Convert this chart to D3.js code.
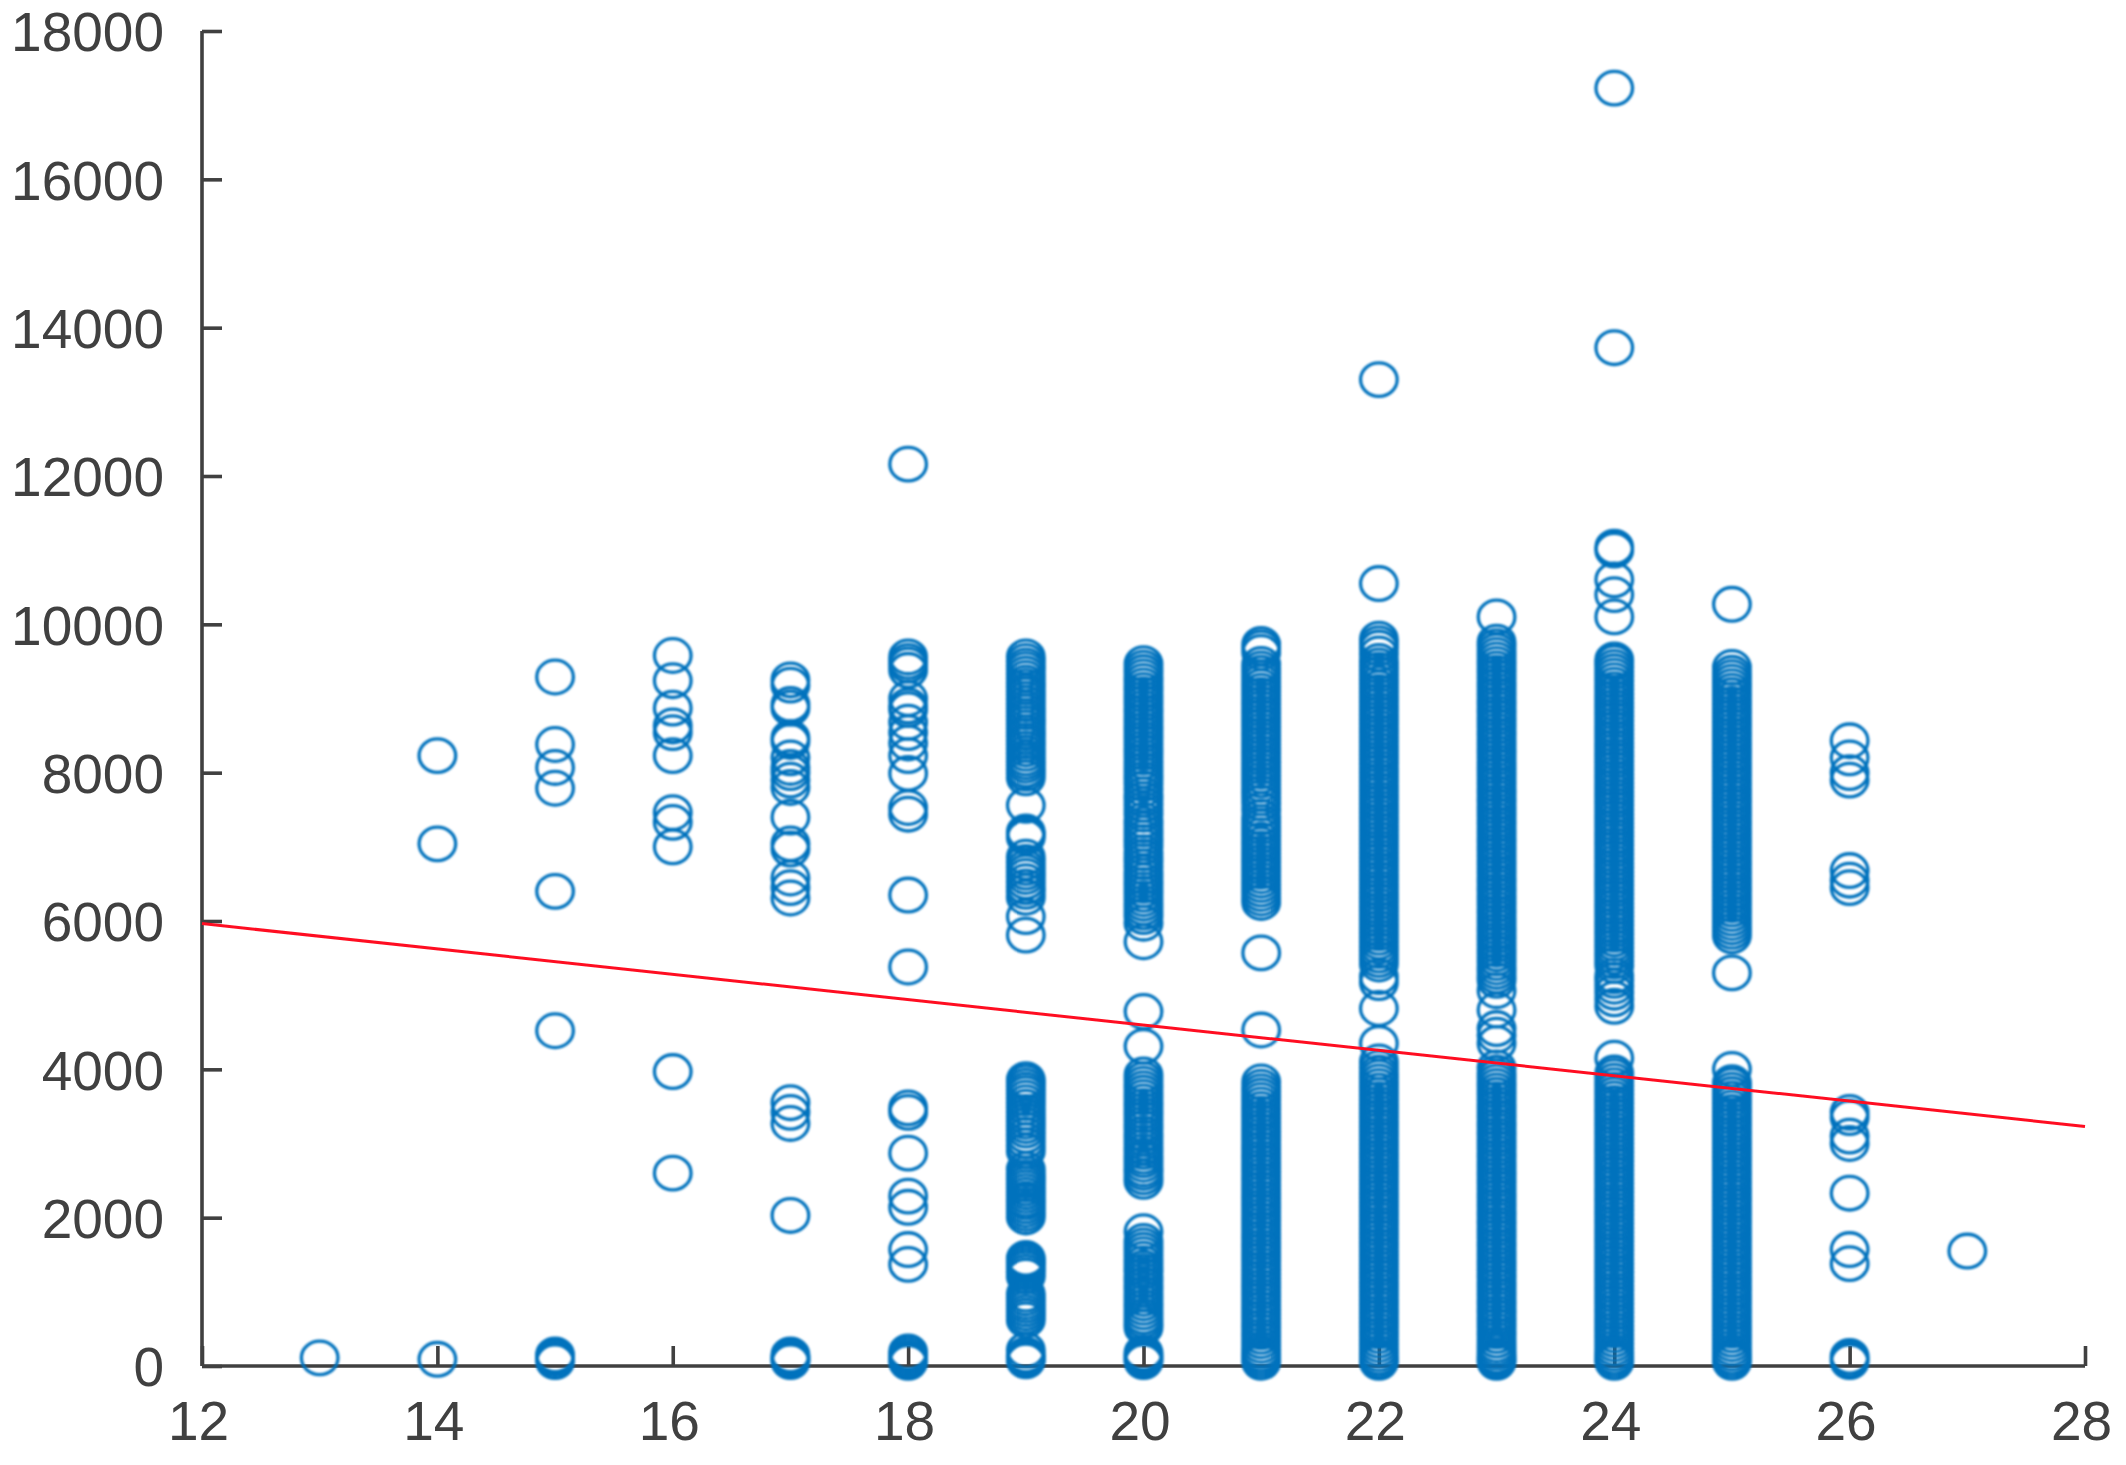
<!DOCTYPE html>
<html><head><meta charset="utf-8">
<script src="https://cdnjs.cloudflare.com/ajax/libs/d3/7.8.5/d3.min.js"></script>
<style>html,body{margin:0;background:#fff}svg{display:block}</style></head>
<body><svg id="c" width="2126" height="1465"></svg>
<script>
const xTicks=[12,14,16,18,20,22,24,26,28];
const yTicks=[0,2000,4000,6000,8000,10000,12000,14000,16000,18000];
const trendX=[12,28];
const trendY=[5965,3230];
const col13=[110];
const col14=[90,7040,8230];
const col15=[60,100,130,150,4520,6400,7790,8070,8380,9290];
const col16=[2600,3970,7000,7330,7460,8230,8540,8630,8870,9240,9580];
const col17=[60,80,100,120,150,2030,3270,3420,3550,6310,6450,6580,6970,7040,7400,7800,7900,8000,8070,8200,8420,8470,8870,8920,9180,9250];
const col18=[50,80,110,150,190,1370,1570,2140,2290,2870,3420,3480,5380,6350,7440,7530,7990,8230,8400,8540,8680,8850,8900,9000,9380,9450,9500,9560,12160];
const col19=[70,100,120,150,215,620,670,720,770,820,870,920,970,1210,1260,1310,1350,1390,1420,1450,2010,2060,2110,2160,2210,2250,2300,2350,2400,2450,2500,2540,2590,2650,2900,2970,3040,3110,3180,3240,3300,3360,3420,3490,3550,3610,3670,3720,3770,3820,3860,5810,6060,6320,6400,6460,6530,6600,6660,6720,6790,6860,7130,7170,7200,7560,7930,7990,8040,8100,8150,8200,8260,8320,8380,8430,8490,8540,8600,8660,8710,8760,8820,8870,8930,8990,9050,9100,9160,9210,9270,9330,9390,9440,9500,9560];
const col20=[60,90,120,150,180,520,570,620,670,730,790,850,910,970,1030,1090,1150,1210,1270,1320,1380,1440,1500,1560,1620,1680,1810,2490,2550,2610,2660,2720,2780,2830,2890,2950,3010,3070,3130,3200,3260,3320,3380,3440,3500,3560,3620,3680,3740,3800,3860,3925,4310,4780,5720,5970,6060,6120,6180,6240,6300,6360,6420,6480,6540,6600,6660,6730,6800,6860,6920,7000,7060,7120,7180,7240,7300,7360,7440,7500,7570,7640,7700,7780,7850,7910,7970,8030,8090,8150,8210,8270,8330,8390,8450,8510,8570,8630,8690,8750,8810,8870,8930,8990,9050,9110,9170,9230,9290,9350,9410,9470];
const col21=[50,90,130,170,220,280,340,400,460,520,580,640,700,760,820,880,940,1000,1060,1120,1180,1240,1300,1360,1420,1480,1540,1600,1660,1720,1780,1840,1900,1960,2020,2080,2140,2200,2260,2320,2380,2440,2500,2560,2620,2680,2740,2800,2860,2920,2980,3040,3100,3160,3220,3280,3340,3400,3460,3520,3580,3640,3700,3760,3830,4530,5570,6250,6310,6370,6430,6490,6550,6610,6670,6730,6790,6850,6910,6970,7030,7090,7150,7210,7270,7330,7400,7500,7590,7660,7720,7780,7840,7900,7960,8020,8080,8140,8200,8260,8320,8380,8440,8500,8560,8620,8680,8740,8800,8860,8920,8980,9040,9100,9160,9220,9280,9340,9400,9460,9620,9680,9730];
const col22=[50,80,120,170,230,290,350,410,470,530,590,650,710,770,830,890,950,1010,1070,1130,1190,1250,1310,1370,1430,1490,1550,1610,1670,1730,1790,1850,1910,1970,2030,2090,2150,2210,2270,2330,2390,2450,2510,2570,2630,2690,2750,2810,2870,2930,2990,3050,3110,3170,3230,3290,3350,3410,3470,3530,3590,3650,3710,3770,3830,3890,3950,4020,4100,4350,4820,5170,5250,5420,5480,5540,5600,5660,5720,5780,5840,5900,5960,6020,6080,6140,6200,6260,6320,6380,6440,6500,6560,6620,6680,6740,6800,6860,6920,6980,7040,7100,7160,7220,7280,7340,7400,7460,7520,7580,7640,7700,7760,7820,7880,7940,8000,8060,8120,8180,8240,8300,8360,8420,8480,8540,8600,8660,8720,8780,8840,8900,8960,9020,9080,9140,9200,9260,9320,9380,9440,9500,9600,9680,9740,9800,10550,13300];
const col23=[50,80,110,140,190,240,290,350,410,470,530,590,650,710,770,830,890,950,1010,1070,1130,1190,1250,1310,1370,1430,1490,1550,1610,1670,1730,1790,1850,1910,1970,2030,2090,2150,2210,2270,2330,2390,2450,2510,2570,2630,2690,2750,2810,2870,2930,2990,3050,3110,3170,3230,3290,3350,3410,3470,3530,3590,3650,3710,3770,3830,3890,3950,4020,4350,4460,4550,4800,5060,5200,5260,5320,5380,5440,5500,5560,5620,5680,5740,5800,5860,5920,5980,6040,6100,6160,6220,6280,6340,6400,6460,6520,6580,6640,6700,6760,6820,6880,6940,7000,7060,7120,7180,7240,7300,7360,7420,7480,7540,7600,7660,7720,7780,7840,7900,7960,8020,8080,8140,8200,8260,8320,8380,8440,8500,8560,8620,8680,8740,8800,8860,8920,8980,9040,9100,9160,9220,9280,9340,9400,9460,9520,9580,9640,9700,9760,10100];
const col24=[50,90,130,180,240,300,360,420,480,540,600,660,720,780,840,900,960,1020,1080,1140,1200,1260,1320,1380,1440,1500,1560,1620,1680,1740,1800,1860,1920,1980,2040,2100,2160,2220,2280,2340,2400,2460,2520,2580,2640,2700,2760,2820,2880,2940,3000,3060,3120,3180,3240,3300,3360,3420,3480,3540,3600,3660,3720,3780,3840,3900,3950,4150,4850,4950,5040,5120,5200,5260,5400,5460,5520,5580,5640,5700,5760,5820,5880,5940,6000,6060,6120,6180,6240,6300,6360,6420,6480,6540,6600,6660,6720,6780,6840,6900,6960,7020,7080,7140,7200,7260,7320,7380,7440,7500,7560,7620,7680,7740,7800,7860,7920,7980,8040,8100,8160,8220,8280,8340,8400,8460,8520,8580,8640,8700,8760,8820,8880,8940,9000,9060,9120,9180,9240,9300,9360,9420,9480,9520,10100,10400,10600,11000,11040,13730,17230];
const col25=[50,90,130,180,240,300,360,420,480,540,600,660,720,780,840,900,960,1020,1080,1140,1200,1260,1320,1380,1440,1500,1560,1620,1680,1740,1800,1860,1920,1980,2040,2100,2160,2220,2280,2340,2400,2460,2520,2580,2640,2700,2760,2820,2880,2940,3000,3060,3120,3180,3240,3300,3360,3420,3480,3540,3600,3660,3720,3780,3820,4000,5300,5800,5860,5920,5980,6040,6100,6160,6220,6280,6340,6400,6460,6520,6580,6640,6700,6760,6820,6880,6940,7000,7060,7120,7180,7240,7300,7360,7420,7480,7540,7600,7660,7720,7780,7840,7900,7960,8020,8080,8140,8200,8260,8320,8380,8440,8500,8560,8620,8680,8740,8800,8860,8920,8980,9040,9100,9160,9220,9280,9340,9420,10270];
const col26=[60,90,130,1380,1570,2330,3000,3100,3350,3420,6450,6550,6680,7900,8000,8200,8430];
const col27=[1550];
const columns=[[13,col13],[14,col14],[15,col15],[16,col16],[17,col17],[18,col18],[19,col19],[20,col20],[21,col21],[22,col22],[23,col23],[24,col24],[25,col25],[26,col26],[27,col27]];
const points=columns.flatMap(([x,vals])=>vals.map(v=>({x,v})));

const x=d3.scaleLinear().domain([12,28]).range([202,2085]);
const y=d3.scaleLinear().domain([0,18000]).range([1366,31]);
const svg=d3.select('#c');
const defs=svg.append('defs');
function blur(id,sd){
  defs.append('filter').attr('id',id).attr('filterUnits','userSpaceOnUse')
    .attr('x',-3000).attr('y',-3000).attr('width',8000).attr('height',8000)
    .append('feGaussianBlur').attr('stdDeviation',sd);
}
blur('soft',0.9);blur('softAxis',0.7);blur('softText',0.5);
const ink='#404040';

function styleAxis(g){
  g.selectAll('path,line').attr('stroke',ink).attr('stroke-width',3.6);
  g.selectAll('text').attr('fill',ink).attr('font-family','"Liberation Sans",Arial,sans-serif').attr('font-size',55).attr('filter','url(#softText)');
}
const gx=svg.append('g').attr('transform','translate(0,1366)')
  .call(d3.axisBottom(x).tickValues(xTicks).tickFormat(d3.format('d')).tickSize(-20).tickSizeOuter(0).tickPadding(35));
styleAxis(gx);
gx.select('.domain').attr('d',`M${x(12)},0H${x(28)}`);
gx.selectAll('text').attr('dx',-4);
const gy=svg.append('g').attr('transform','translate(202,0)')
  .call(d3.axisLeft(y).tickValues(yTicks).tickFormat(d3.format('d')).tickSize(-20).tickSizeOuter(0).tickPadding(38));
styleAxis(gy);
gy.select('.domain').attr('d',`M0,${y(0)}V${y(18000)}`);
gy.selectAll('text').attr('dy','0.36em');
gx.selectAll('path,line').attr('filter','url(#softAxis)');
gy.selectAll('path,line').attr('filter','url(#softAxis)');

svg.append('g').attr('filter','url(#soft)').selectAll('ellipse').data(points).join('ellipse')
  .attr('cx',d=>x(d.x)).attr('cy',d=>y(d.v)).attr('rx',18.3).attr('ry',16.8)
  .attr('fill','none').attr('stroke','#0072BD').attr('stroke-width',3.3);

svg.append('path').datum(trendX.map((d,i)=>[d,trendY[i]]))
  .attr('d',d3.line().x(d=>x(d[0])).y(d=>y(d[1])))
  .attr('fill','none').attr('stroke','#ff1020').attr('stroke-width',3).attr('filter','url(#softAxis)');
</script></body></html>
